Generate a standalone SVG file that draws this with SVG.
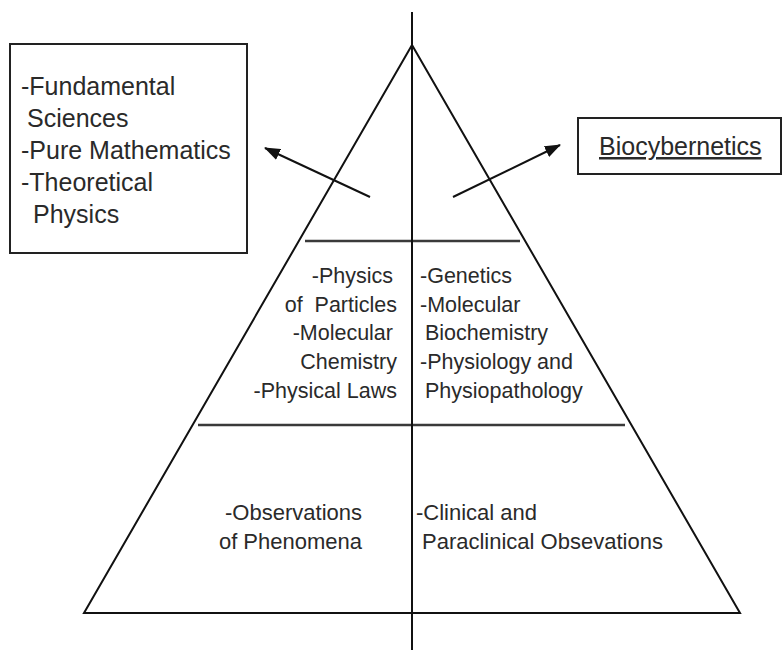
<svg xmlns="http://www.w3.org/2000/svg" width="783" height="650" viewBox="0 0 783 650">
  <style>
    .ln { stroke: #111; stroke-width: 2; fill: none; }
    .div { stroke: #3a3a3a; stroke-width: 2.5; fill: none; }
    .box { stroke: #222; stroke-width: 2; fill: #fff; }
    .t { font-family: "Liberation Sans", Arial, sans-serif; fill: #2a2a2a; }
    .big { font-size: 25px; }
    .mid { font-size: 21.5px; }
    .low { font-size: 22px; }
    .end { text-anchor: end; }
  </style>
  <defs>
    <marker id="arrow" markerWidth="16" markerHeight="12" refX="15" refY="6" orient="auto" markerUnits="userSpaceOnUse" viewBox="0 0 16 12">
      <path d="M0,0 L16,6 L0,12 Z" fill="#111"/>
    </marker>
  </defs>
  <rect width="783" height="650" fill="#fff"/>

  <!-- pyramid outline, dividers and central axis -->
  <g id="pyramid">
    <polygon class="ln" points="412,45 84,613 740,613"/>
    <line class="div" x1="305" y1="241" x2="520" y2="241"/>
    <line class="div" x1="198" y1="425" x2="625" y2="425"/>
    <line class="ln" x1="412" y1="12" x2="412" y2="650"/>
  </g>

  <!-- arrows out of the apex tier -->
  <g id="connectors">
    <line class="ln" x1="370" y1="197" x2="265" y2="148" marker-end="url(#arrow)"/>
    <line class="ln" x1="453" y1="197" x2="560" y2="145" marker-end="url(#arrow)"/>
  </g>

  <g id="theory-box">
    <rect class="box" x="10" y="44" width="237" height="209"/>
    <text class="t big" x="21" y="95">-Fundamental</text>
    <text class="t big" x="27" y="127">Sciences</text>
    <text class="t big" x="21" y="159">-Pure Mathematics</text>
    <text class="t big" x="21" y="191">-Theoretical</text>
    <text class="t big" x="33" y="223">Physics</text>
  </g>

  <g id="biocybernetics-box">
    <rect class="box" x="578" y="118" width="203" height="56"/>
    <text class="t" x="599" y="155" font-size="25" text-decoration="underline">Biocybernetics</text>
  </g>

  <g id="middle-left">
    <text class="t mid end" x="393" y="283">-Physics</text>
    <text class="t mid end" x="397" y="312">of&#160; Particles</text>
    <text class="t mid end" x="393" y="340">-Molecular</text>
    <text class="t mid end" x="397" y="369">Chemistry</text>
    <text class="t mid end" x="397" y="398">-Physical Laws</text>
  </g>

  <g id="middle-right">
    <text class="t mid" x="420" y="283">-Genetics</text>
    <text class="t mid" x="420" y="312">-Molecular</text>
    <text class="t mid" x="425" y="340">Biochemistry</text>
    <text class="t mid" x="420" y="369">-Physiology and</text>
    <text class="t mid" x="425" y="398">Physiopathology</text>
  </g>

  <g id="base-left">
    <text class="t low end" x="362" y="520">-Observations</text>
    <text class="t low end" x="362" y="549">of Phenomena</text>
  </g>

  <g id="base-right">
    <text class="t low" x="416" y="520">-Clinical and</text>
    <text class="t low" x="422" y="549">Paraclinical Obsevations</text>
  </g>
</svg>
